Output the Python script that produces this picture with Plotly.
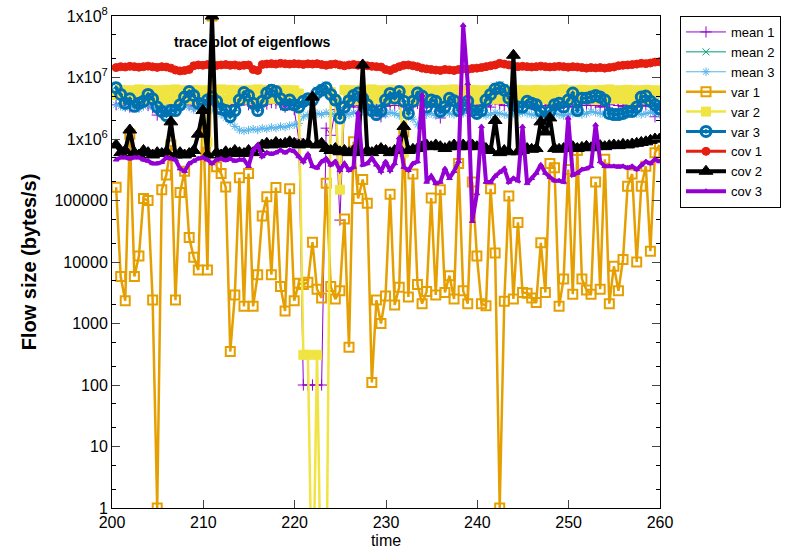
import plotly.graph_objects as go

# sample times (s)
times = [round(200.45 + 0.5 * i, 2) for i in range(120)]

mean1 = [3.6e6,3.8e6,3.5e6,3.3e6,3.6e6,3.4e6,3.7e6,3.5e6,3.2e6,2.45e6,
         3.0e6,3.4e6,3.6e6,3.3e6,3.5e6,3.8e6,3.6e6,3.4e6,3.3e6,3.5e6,
         3.4e6,3.6e6,3.5e6,3.3e6,3.4e6,3.7e6,3.5e6,3.6e6,4.3e6,3.6e6,
         3.4e6,3.2e6,3.5e6,3.7e6,3.9e6,3.8e6,3.6e6,3.3e6,3.6e6,3.0e6,
         1.0e6,100,100,100,100,100,1.5e6,1.15e6,3.0e6,48000,
         3.2e6,3.5e6,3.3e6,3.6e6,3.8e6,3.5e6,3.3e6,3.1e6,2.3e6,3.4e6,
         3.6e6,3.5e6,3.7e6,3.4e6,3.2e6,3.5e6,3.8e6,3.6e6,3.4e6,3.3e6,
         3.5e6,2.2e6,3.4e6,3.6e6,3.5e6,3.3e6,3.6e6,3.8e6,3.5e6,3.4e6,
         3.6e6,3.5e6,3.3e6,4.3e6,3.7e6,3.5e6,3.5e6,3.4e6,3.6e6,3.3e6,
         3.5e6,3.6e6,3.4e6,3.3e6,3.5e6,3.7e6,3.6e6,3.4e6,3.5e6,3.3e6,
         3.4e6,3.6e6,3.5e6,3.5e6,3.6e6,3.5e6,3.3e6,3.4e6,3.6e6,4.9e6,
         3.5e6,3.4e6,3.6e6,3.3e6,3.5e6,3.4e6,3.6e6,3.5e6,2.3e6,3.4e6]

mean2 = [7.2e6,5.8e6,4.1e6,4.9e6,3.7e6,4.2e6,4.5e6,5.8e6,4.9e6,3.6e6,
         3.0e6,2.6e6,3.2e6,3.1e6,4.0e6,5.3e6,6.5e6,5.6e6,4.2e6,3.9e6,
         4.7e6,5.3e6,4.5e6,3.4e6,3.2e6,2.5e6,3.2e6,4.7e6,6.3e6,5.6e6,
         4.2e6,3.2e6,4.5e6,6.2e6,6.9e6,6.5e6,4.9e6,4.0e6,4.7e6,3.9e6,
         3.6e6,4.5e6,4.9e6,4.7e6,6.2e6,6.8e6,7.5e6,5.8e6,4.7e6,2.4e6,
         3.6e6,4.6e6,5.6e6,6.2e6,5.1e6,3.9e6,3.2e6,2.8e6,3.2e6,4.7e6,
         6.0e6,5.1e6,6.5e6,4.5e6,2.9e6,4.5e6,6.2e6,5.5e6,3.6e6,4.7e6,
         4.5e6,3.1e6,3.6e6,5.1e6,4.6e6,3.2e6,4.0e6,4.5e6,3.2e6,2.9e6,
         3.2e6,4.7e6,5.8e6,7.2e6,7.6e6,6.9e6,5.1e6,4.0e6,3.6e6,3.6e6,
         4.5e6,4.2e6,4.0e6,3.1e6,2.5e6,3.1e6,4.0e6,4.2e6,3.6e6,4.7e6,
         6.2e6,3.2e6,5.1e6,5.0e6,5.3e6,5.6e6,5.3e6,4.7e6,2.9e6,2.8e6,
         2.8e6,2.9e6,3.1e6,3.1e6,3.6e6,5.3e6,5.5e6,4.5e6,4.0e6,3.4e6]

mean3 = [3.6e6,3.4e6,3.2e6,3.5e6,3.3e6,3.1e6,3.4e6,3.6e6,3.3e6,3.0e6,
         3.2e6,3.4e6,3.1e6,2.9e6,3.2e6,3.5e6,3.3e6,3.0e6,3.2e6,3.4e6,
         3.1e6,3.0e6,2.8e6,2.5e6,2.2e6,
         1.9e6,1.6e6,1.4e6,1.35e6,1.4e6,1.45e6,1.4e6,1.5e6,1.45e6,1.55e6,
         1.5e6,1.6e6,1.55e6,1.65e6,1.7e6,1.8e6,
         2.3e6,2.5e6,2.4e6,2.6e6,2.5e6,2.7e6,2.5e6,2.6e6,2.8e6,2.6e6,
         2.5e6,2.7e6,2.6e6,2.8e6,2.7e6,2.9e6,2.8e6,2.6e6,2.5e6,2.7e6,
         2.6e6,2.4e6,2.5e6,2.3e6,2.1e6,1.7e6,2.2e6,2.5e6,2.6e6,2.4e6,
         2.5e6,2.7e6,2.6e6,2.5e6,2.7e6,2.6e6,2.8e6,2.7e6,2.5e6,2.6e6,
         2.4e6,2.5e6,2.7e6,2.6e6,2.5e6,2.4e6,2.6e6,2.5e6,2.7e6,2.6e6,
         2.5e6,2.4e6,2.6e6,2.5e6,2.7e6,2.6e6,2.5e6,2.4e6,2.5e6,2.6e6,
         2.7e6,2.5e6,2.6e6,2.8e6,2.7e6,2.6e6,2.5e6,2.6e6,2.4e6,2.5e6,
         2.6e6,2.5e6,2.7e6,2.6e6,2.5e6,2.6e6,2.7e6,2.6e6,2.5e6]

var1 = [164000,5800,2350,1200000,5800,12500,108000,100000,2400,1,
        150000,260000,800000,2400,135000,300000,25000,12000,7400,3300000,
        7400,100000000,355000,275000,165000,350,2900,235000,1900,275000,
        1900,6200,56000,115000,6200,163000,4000,1600,155000,2350,
        4500,4300,4700,21000,3600,2600,190000,4000,2500,3400,
        50000,410,900000,108000,220000,90000,110,2400,1000,2800,
        126000,2000,3900,1300000,2700,270000,4300,2100,3300,110000,
        2900,150000,3200,6000,2500,400000,3400,2100,200000,12500,
        2100,1950,155000,14000,1,2300,118000,2500,44000,3200,
        3100,2600,2200,20500,3200,400000,340000,1900,5300,320000,
        3000,650000,5300,3500,3000,200000,3600,470000,2100,8500,
        3400,11000,170000,270000,10000,170000,360000,15000,600000,800000]

var2 = [5.2e6,6.3e6,4.4e6,6.2e6,4.3e6,6.4e6,4.5e6,6.3e6,4.4e6,6.2e6,
        4.3e6,6.3e6,4.4e6,6.4e6,4.5e6,6.2e6,4.4e6,6.3e6,4.3e6,6.2e6,
        9e5,6.3e6,4.4e6,6.4e6,4.3e6,6.3e6,4.5e6,6.2e6,4.4e6,6.3e6,
        4.3e6,6.4e6,4.4e6,6.3e6,4.5e6,6.2e6,4.4e6,6.3e6,4.3e6,6.2e6,
        5.5e6,310,310,0.01,310,0.01,0.01,5.8e6,4.4e6,150000,
        6.3e6,4.4e6,6.2e6,4.3e6,6.3e6,4.4e6,6.4e6,4.5e6,6.2e6,4.4e6,
        6.3e6,4.3e6,6.2e6,6e5,6.3e6,4.4e6,6.2e6,4.3e6,6.3e6,4.5e6,
        6.2e6,4.4e6,6.3e6,4.3e6,6.4e6,4.4e6,6.2e6,4.5e6,6.3e6,4.4e6,
        6.2e6,4.3e6,6.3e6,4.4e6,6.4e6,4.5e6,6.2e6,4.4e6,6.3e6,4.3e6,
        6.2e6,4.4e6,6.3e6,4.5e6,6.2e6,4.4e6,6.3e6,4.3e6,6.4e6,4.4e6,
        6.2e6,4.5e6,6.3e6,4.4e6,6.2e6,4.3e6,6.3e6,4.4e6,6.4e6,4.5e6,
        6.2e6,4.4e6,6.3e6,4.3e6,6.2e6,4.4e6,6.3e6,4.5e6,6.2e6,5.5e6]

var3 = [6.8e6,5.3e6,3.8e6,4.5e6,3.4e6,3.8e6,4.1e6,5.3e6,4.5e6,3.3e6,
        2.8e6,2.4e6,2.9e6,2.9e6,3.6e6,4.8e6,5.9e6,5.1e6,3.8e6,3.6e6,
        4.3e6,4.8e6,4.1e6,3.1e6,2.9e6,2.3e6,2.9e6,4.3e6,5.7e6,5.1e6,
        3.8e6,2.9e6,4.1e6,5.6e6,6.2e6,5.9e6,4.5e6,3.6e6,4.3e6,3.6e6,
        3.3e6,4.1e6,4.5e6,4.3e6,5.6e6,6.2e6,6.8e6,5.3e6,4.3e6,2.2e6,
        3.3e6,4.2e6,5.1e6,5.6e6,4.6e6,3.6e6,2.9e6,2.5e6,2.9e6,4.3e6,
        5.5e6,4.6e6,5.9e6,4.1e6,2.6e6,4.1e6,5.6e6,5.0e6,3.3e6,4.3e6,
        4.1e6,2.8e6,3.3e6,4.6e6,4.2e6,2.9e6,3.6e6,4.1e6,2.9e6,2.6e6,
        2.9e6,4.3e6,5.3e6,6.5e6,6.8e6,6.2e6,4.6e6,3.6e6,3.3e6,3.3e6,
        4.1e6,3.8e6,3.6e6,2.8e6,2.3e6,2.8e6,3.6e6,3.8e6,3.3e6,4.3e6,
        5.6e6,2.9e6,4.6e6,4.6e6,4.8e6,5.1e6,4.8e6,4.3e6,2.6e6,2.5e6,
        2.5e6,2.6e6,2.8e6,2.8e6,3.3e6,4.8e6,5.0e6,4.1e6,3.6e6,3.1e6]

cov1 = [1.45e7,1.5e7,1.48e7,1.52e7,1.5e7,1.47e7,1.5e7,1.53e7,1.49e7,1.46e7,1.5e7,1.48e7,1.42e7,
        1.32e7,1.28e7,1.3e7,1.35e7,
        1.55e7,1.6e7,1.58e7,1.62e7,1.6e7,1.57e7,1.6e7,1.62e7,1.58e7,1.6e7,1.55e7,1.58e7,1.6e7,
        1.35e7,1.3e7,
        1.62e7,1.66e7,1.68e7,1.65e7,1.7e7,1.67e7,1.65e7,1.68e7,1.66e7,1.63e7,
        1.67e7,1.65e7,1.68e7,1.62e7,1.58e7,1.63e7,1.66e7,1.6e7,1.55e7,1.6e7,
        1.63e7,1.58e7,1.6e7,1.55e7,1.52e7,1.5e7,1.48e7,
        1.35e7,1.3e7,1.4e7,1.5e7,1.58e7,1.6e7,1.55e7,1.5e7,
        1.42e7,1.38e7,1.35e7,1.32e7,1.3e7,1.35e7,1.33e7,1.3e7,1.35e7,1.38e7,1.35e7,1.4e7,1.42e7,
        1.45e7,1.5e7,1.55e7,1.6e7,1.7e7,1.65e7,1.6e7,
        1.55e7,1.5e7,1.52e7,1.5e7,1.48e7,1.5e7,1.53e7,1.5e7,1.48e7,1.5e7,1.52e7,1.5e7,1.47e7,1.5e7,1.48e7,
        1.45e7,1.42e7,1.45e7,1.43e7,1.45e7,1.42e7,1.45e7,1.48e7,
        1.55e7,1.58e7,1.6e7,1.62e7,1.65e7,1.7e7,1.68e7,1.72e7,1.78e7,1.8e7]

cov2 = [8e5,6e5,6.5e5,1.4e6,6e5,5.5e5,6.5e5,6e5,5.5e5,6e5,
        5.8e5,6.2e5,1.9e6,5.5e5,6e5,5.5e5,5.8e5,6.5e5,1.2e6,2.9e6,
        5.5e5,1e8,6e5,5.5e5,6.2e5,5.8e5,6.5e5,6e5,5.8e5,6.5e5,
        6e5,7e5,8e5,8.5e5,8e5,8.8e5,8.2e5,8.5e5,9e5,8.5e5,
        8e5,8.2e5,8.5e5,4.8e6,8e5,8.5e5,7e5,6.5e5,7e5,6.2e5,
        6.5e5,6e5,6.5e5,6e5,1.6e7,6.5e5,6e5,6.5e5,7e5,6.5e5,
        6e5,6.5e5,7e5,1.6e6,6.5e5,6.8e5,7e5,7.5e5,8e5,7.5e5,
        8e5,7.5e5,7e5,7.5e5,8e5,7.5e5,8e5,7.5e5,8e5,7.5e5,
        8e5,7e5,6.5e5,2e6,6e5,6.5e5,6.2e5,2.3e7,6.2e5,6.5e5,
        7e5,6.8e5,7e5,1.9e6,1.3e6,2.2e6,7e5,6.8e5,7e5,7.2e5,
        7.5e5,7e5,7.3e5,7.6e5,7.2e5,7.5e5,7.8e5,7.5e5,7.8e5,8e5,
        7.8e5,8.2e5,8e5,8.3e5,8.5e5,8.8e5,9e5,9.5e5,1e6,1e6]

cov3 = [4.6e5,5e5,5e5,4.8e5,5e5,5e5,4.6e5,4.4e5,4e5,4e5,
        4.2e5,5e5,4.8e5,4.6e5,3.3e5,3e5,4e5,4.4e5,4.8e5,5e5,
        4.6e5,4e5,4.6e5,4.8e5,4.5e5,4.8e5,4.4e5,4.6e5,4.6e5,3.6e5,
        6.6e5,8e5,5.2e5,6e5,5.7e5,6e5,6.6e5,6e5,6.6e5,6.3e5,
        5.2e5,4.3e5,5.7e5,3.6e5,3.4e5,4.3e5,4.8e5,3.8e5,4.3e5,3.1e5,
        4e5,3.1e5,3.5e5,2.7e6,3.8e5,4e5,4.9e5,3.8e5,3e5,4.3e5,
        3.1e5,4e5,1.05e6,3.5e5,3.1e5,4e5,4.3e5,5.2e6,2e5,2.5e5,
        1.9e5,2e5,3.3e5,2.3e5,3e5,4.3e5,7.1e7,8e6,46000,1.3e5,
        1.6e6,2e5,2e5,2.5e5,2.9e5,3.3e5,2e5,2.3e5,2.1e5,1.6e6,
        1.9e5,2.3e5,2.8e5,3.8e5,2.8e5,2.4e5,2.1e5,2.1e5,2e5,2.2e6,
        2.6e5,2.8e5,3.2e5,3.3e5,3.6e5,1.7e6,4.3e5,3.6e5,3.6e5,3.6e5,
        3.5e5,3.6e5,3.4e5,3.6e5,3.2e5,3.8e5,4.3e5,4e5,4.7e5,4.3e5]

ytick_vals = [1, 10, 100, 1000, 10000, 100000, 1e6, 1e7, 1e8]
ytick_text = ["1", "10", "100", "1000", "10000", "100000",
              "1x10<sup>6</sup>", "1x10<sup>7</sup>", "1x10<sup>8</sup>"]
xtick_vals = [200, 210, 220, 230, 240, 250, 260]
yminor_vals = [m * 10 ** k for k in range(8) for m in (2, 5)]

series = [
    ("mean 1", mean1, "#9400d3", "cross-thin", 8, 1, 1),
    ("mean 2", mean2, "#009e73", "x-thin", 7, 1, 1),
    ("mean 3", mean3, "#56b4e9", "asterisk-open", 7, 1, 1),
    ("var 1", var1, "#e69f00", "square-open", 9, 2.5, 2),
    ("var 2", var2, "#f0e442", "square", 9, 2.5, 1),
    ("var 3", var3, "#0072b2", "circle-open-dot", 10, 3, 3),
    ("cov 1", cov1, "#e51e10", "circle", 8, 3, 1),
    ("cov 2", cov2, "#000000", "triangle-up", 12, 4, 1),
    ("cov 3", cov3, "#9400d3", "triangle-up", 5, 4, 1),
]

FONT = "Liberation Sans, Arial, sans-serif"

fig = go.Figure()
for name, vals, color, sym, size, lw, mlw in series:
    fig.add_trace(go.Scatter(
        x=times, y=vals, name=name, mode="lines+markers",
        line=dict(color=color, width=lw),
        marker=dict(symbol=sym, size=size, color=color,
                    line=dict(color=color, width=mlw)),
    ))

fig.add_annotation(text="<b>trace plot of eigenflows</b>", xref="paper", yref="paper",
                   x=0.257, y=0.947, xanchor="center", yanchor="middle", showarrow=False,
                   font=dict(family=FONT, size=14, color="black"))

fig.update_layout(
    width=792, height=556,
    margin=dict(l=112, r=131, t=16, b=48),
    paper_bgcolor="white", plot_bgcolor="white",
    font=dict(family=FONT, size=16, color="black"),
    showlegend=True,
    legend=dict(x=1.0346, y=1.0, xanchor="left", yanchor="top",
                bordercolor="black", borderwidth=1, bgcolor="white",
                font=dict(size=13), tracegroupgap=0, itemwidth=40),
)
fig.update_xaxes(
    range=[200, 260], tickvals=xtick_vals, ticks="inside", ticklen=8,
    showline=True, linecolor="black", linewidth=1, mirror="allticks",
    showgrid=False, zeroline=False, automargin=False,
    title=dict(text="time", font=dict(size=16), standoff=4),
    tickfont=dict(size=16), ticklabeloverflow="allow",
)
fig.update_yaxes(
    type="log", range=[0, 8], tickvals=ytick_vals, ticktext=ytick_text,
    ticks="inside", ticklen=8,
    minor=dict(tickvals=yminor_vals, ticks="inside", ticklen=4, tickcolor="black"),
    showline=True, linecolor="black", linewidth=1, mirror="allticks",
    showgrid=False, zeroline=False, automargin=False,
    title=dict(text="<b>Flow size (bytes/s)</b>", font=dict(size=20), standoff=12),
    tickfont=dict(size=16), ticklabeloverflow="allow",
)

# remove the default 8px page margin so the figure sits at the window origin
fig.write_html("out.html", config={"displayModeBar": False},
               post_script="document.body.style.margin='0px';")
